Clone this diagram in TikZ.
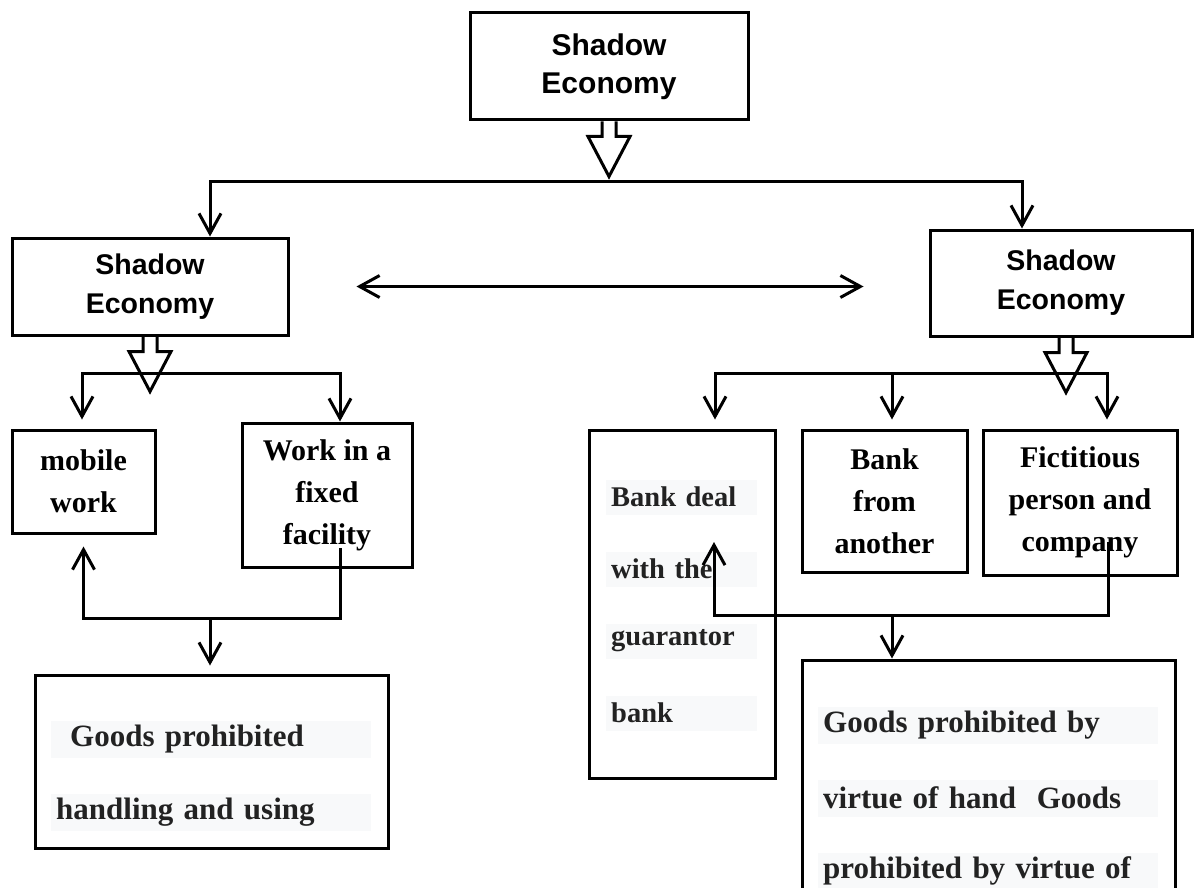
\documentclass[tikz,border=0pt]{standalone}
\usepackage{fontspec}
\setmainfont{Liberation Serif}
\newfontfamily\arialfont{Liberation Sans}
\usepackage{tikz}
\usetikzlibrary{arrows.meta,calc}
\definecolor{ink}{HTML}{222222}
\definecolor{barbg}{HTML}{F8F9FA}
% hollow block arrow under a box
\newcommand\fatarrow[2][0pt]{\draw[fat] ([xshift=-7pt+#1]#2.south) -- ++(0,15) -- ++(-14,0) -- ++(21,40) -- ++(21,-40) -- ++(-14,0) -- ++(0,-15);}

\begin{document}
\begin{tikzpicture}[x=1pt,y=-1pt,
  sebox/.style={rectangle,draw,line width=3pt,inner sep=0pt,align=center,font=\arialfont\bfseries\fontsize{28.5}{39}\selectfont},
  leafbox/.style={rectangle,draw,line width=3pt,inner sep=0pt,align=center,font=\bfseries\fontsize{30}{42}\selectfont},
  graybar/.style={anchor=west,fill=barbg,text=ink,inner xsep=5pt,inner ysep=0pt,minimum height=35pt,align=left,font=\bfseries\fontsize{28.5}{34}\selectfont},
  arr/.style={-{Straight Barb[length=20pt,width=22pt]},line width=3pt},
  dbl/.style={{Straight Barb[length=20pt,width=22pt]}-{Straight Barb[length=20pt,width=22pt]},line width=3pt},
  fat/.style={line width=3pt,line join=miter}]
\useasboundingbox (0,0) rectangle (1195,888);
\clip (0,0) rectangle (1195,888);

\node[sebox,minimum width=278pt,minimum height=107pt,font=\arialfont\bfseries\fontsize{30}{38}\selectfont] (top) at (609,66.5) {Shadow\\Economy};
\node[sebox,minimum width=276pt,minimum height=97pt] (seL) at (150,286.5) {Shadow\\Economy};
\node[sebox,minimum width=262pt,minimum height=106pt] (seR) at (1061,283) {Shadow\\Economy};

\node[leafbox,minimum width=143pt,minimum height=103pt] (mobile) at (83.5,481.5) {mobile\\work};
\node[leafbox,minimum width=170pt,minimum height=144pt] (fixed) at (327,495) {Work in a\\fixed\\facility};
\node[leafbox,minimum width=353pt,minimum height=173pt] (goodsL) at (211.5,761.5) {};
\node[leafbox,minimum width=186pt,minimum height=348pt] (deal) at (682,604) {};
\node[leafbox,minimum width=165pt,minimum height=142pt] (another) at (884.5,501) {Bank\\from\\another};
\node[leafbox,minimum width=194pt,minimum height=145pt] (fict) at (1080,502.5) {Fictitious\\person and\\company};
\node[leafbox,minimum width=373pt,minimum height=250pt] (goodsR) at (988.5,785) {};

\node[graybar,text width=310pt,minimum height=37pt,font=\bfseries\fontsize{31}{36}\selectfont] (goodsL1) at (51,739.5) {\hspace*{14pt}Goods prohibited};
\node[graybar,text width=310pt,minimum height=37pt,font=\bfseries\fontsize{31}{36}\selectfont] (goodsL2) at (51,812) {handling and using};
\foreach \t [count=\i] in {Bank deal,with the,guarantor,bank}
  \node[graybar,text width=141pt] (deal\i) at (606,{425+72*\i}) {\t};
\foreach \t [count=\i] in {Goods prohibited by,virtue of hand\ \ Goods,prohibited by virtue of}
  \node[graybar,text width=330pt,minimum height=37pt,font=\bfseries\fontsize{31}{36}\selectfont] (goodsR\i) at (818,{652+73*\i}) {\t};

\fatarrow{top}
\fatarrow{seL}
\fatarrow[5pt]{seR}

\coordinate (busL) at (210,182);
\coordinate (busR) at (1022,182);
\draw[dbl] (seL.north -| busL) |- (busR) -- (seR.north -| busR);
\draw[dbl,shorten <=67pt,shorten >=65pt] (seL.east) -- (seL.east -| seR.west);

\coordinate (forkL) at (82,373);
\coordinate (forkLr) at (340,373);
\draw[dbl,shorten <=9pt] (mobile.north -| forkL) |- (forkLr) -- (fixed.north -| forkLr);
\coordinate (forkR) at (715,373);
\coordinate (forkRm) at (892,373);
\coordinate (forkRr) at (1107,373);
\draw[dbl,shorten <=9pt,shorten >=9pt] (deal.north -| forkR) |- (forkRr) -- (fict.north -| forkRr);
\draw[arr,shorten >=9pt] (forkRm) -- (another.north -| forkRm);

\coordinate (fixIn) at (340,548);
\coordinate (joinL) at (210,618);
\draw[arr,shorten >=12pt] (fixIn) |- (joinL) -| (mobile.south);
\draw[arr,shorten >=8pt] (joinL) -- (goodsL.north -| joinL);

\coordinate (fictIn) at (1108,542);
\coordinate (joinR) at (892,615);
\coordinate (dealIn) at (714,542);
\draw[arr] (fictIn) |- (joinR) -| (dealIn);
\draw[arr] (joinR) -- (goodsR.north -| joinR);
\end{tikzpicture}
\end{document}
